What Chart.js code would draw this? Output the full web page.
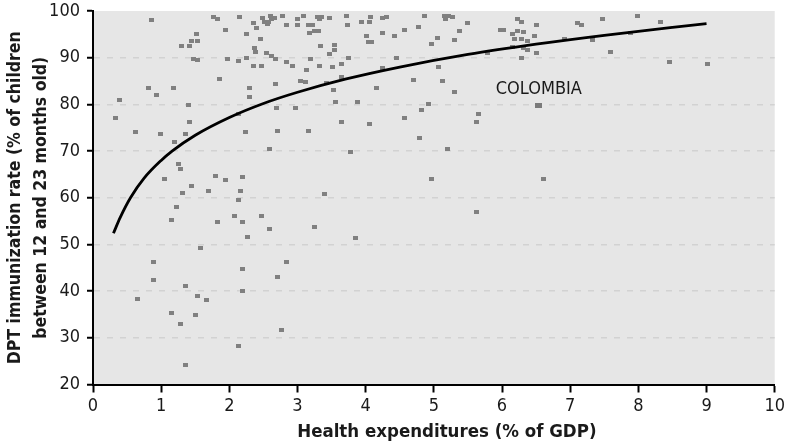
<!DOCTYPE html>
<html>
<head>
<meta charset="utf-8">
<script src="https://cdn.jsdelivr.net/npm/chart.js@4/dist/chart.umd.min.js"></script>
<style>
  html, body { margin: 0; padding: 0; background: #ffffff; }
  #wrap { width: 788px; height: 443px; }
</style>
</head>
<body>
<div id="wrap"><canvas id="c" width="788" height="443"></canvas></div>
<script>
// Health expenditure (% of GDP) and DPT immunization rate, one entry per country
const healthExp = [
  0.33, 0.39, 0.62, 0.81, 0.86, 0.93, 0.985, 1.05, 1.18, 1.20,
  1.25, 1.29, 1.22, 1.15, 1.31, 1.44, 1.30, 1.42, 1.45, 1.54,
  1.52, 1.47, 1.54, 1.40, 1.41, 1.35, 1.77, 1.83, 1.95, 1.86,
  1.97, 1.80, 1.94, 1.70, 2.13, 2.15, 2.25, 2.25, 2.35, 2.40,
  2.37, 2.39, 2.36, 2.47, 2.46, 2.49, 2.52, 2.56, 2.60, 2.58,
  2.66, 2.62, 2.78, 2.84, 3.00, 3.00, 3.09, 3.16, 3.22, 3.17,
  3.25, 3.31, 3.32, 3.35, 3.30, 3.47, 3.72, 3.74, 3.94, 4.05,
  4.07, 4.24, 4.31, 4.01, 4.04, 4.09, 4.24, 4.42, 4.45, 4.24,
  4.16, 3.88, 4.06, 3.78, 2.54, 2.62, 2.68, 2.84, 2.93, 3.13,
  3.19, 3.32, 3.34, 3.47, 3.54, 3.54, 3.51, 3.65, 3.75, 3.05,
  3.12, 3.43, 3.53, 3.56, 3.65, 3.65, 3.16, 2.97, 2.71, 2.69,
  2.59, 2.68, 2.30, 2.29, 2.24, 2.13, 3.40, 2.19, 2.16, 2.14,
  2.08, 2.47, 1.83, 2.20, 2.59, 2.27, 1.57, 4.57, 4.82, 4.79,
  5.20, 5.63, 5.65, 4.96, 5.63, 3.25, 3.85, 0.89, 0.89, 0.65,
  1.35, 1.54, 1.66, 1.15, 1.50, 1.28, 1.35, 2.20, 2.20, 2.14,
  2.70, 2.84, 2.77, 4.57, 4.77, 4.87, 5.15, 5.21, 5.27, 5.17,
  5.49, 5.37, 5.05, 4.96, 5.30, 5.07, 4.70, 5.12, 5.31, 4.92,
  6.61, 5.78, 5.98, 6.02, 6.23, 6.28, 6.50, 6.16, 6.22, 6.32,
  6.47, 6.19, 6.29, 6.37, 6.16, 6.32, 6.37, 6.51, 6.29, 7.11,
  7.17, 7.47, 7.99, 8.32, 6.91, 7.33, 7.88, 7.59, 8.46, 9.01
];
const dptRate = [
  77.0, 81.0, 74.0, 83.6, 98.1, 82.1, 73.7, 64.1, 83.6, 72.0,
  67.3, 66.2, 58.1, 55.2, 61.1, 62.6, 92.4, 92.4, 93.6, 93.6,
  95.0, 89.8, 89.4, 79.9, 76.3, 73.7, 98.8, 98.2, 96.0, 85.5,
  89.8, 64.7, 63.8, 61.5, 89.3, 98.8, 90.0, 95.1, 97.5, 96.4,
  92.1, 91.3, 88.3, 88.3, 94.0, 98.4, 97.7, 97.2, 99.0, 97.7,
  98.4, 98.2, 99.0, 97.1, 97.1, 98.2, 99.0, 97.1, 97.1, 95.3,
  95.8, 95.8, 98.2, 98.8, 98.8, 98.4, 99.0, 97.1, 97.7, 97.7,
  98.8, 98.5, 98.8, 94.7, 93.4, 93.4, 95.2, 94.7, 90.0, 87.8,
  83.6, 80.5, 75.7, 69.9, 91.0, 90.4, 89.8, 89.0, 88.3, 87.4,
  89.8, 88.3, 92.4, 90.7, 92.8, 91.7, 88.1, 88.7, 90.0, 85.0,
  84.7, 84.6, 83.0, 80.5, 85.9, 76.2, 74.4, 79.3, 74.4, 79.2,
  70.5, 84.4, 83.6, 81.5, 74.0, 78.0, 60.9, 64.5, 61.5, 59.5,
  56.1, 56.1, 54.9, 54.9, 53.2, 51.7, 49.3, 77.0, 78.7, 72.9,
  70.5, 76.3, 78.0, 64.1, 57.0, 53.8, 51.4, 46.3, 42.4, 38.4,
  41.0, 39.0, 38.0, 35.4, 34.9, 33.0, 24.2, 44.7, 40.0, 28.3,
  43.1, 46.3, 31.7, 96.0, 96.6, 99.0, 99.0, 99.0, 98.8, 98.2,
  97.5, 95.8, 94.3, 93.0, 93.7, 88.1, 85.3, 85.1, 82.7, 80.0,
  64.1, 91.1, 96.0, 96.0, 98.2, 97.7, 97.1, 95.1, 95.8, 95.4,
  94.7, 94.1, 93.9, 93.5, 92.2, 92.0, 91.7, 91.1, 90.0, 97.5,
  97.1, 98.2, 99.0, 97.7, 93.9, 93.7, 95.2, 91.3, 89.0, 88.7
];

// Highlighted country
const colombiaX = [6.54];
const colombiaY = [79.8];
const colombiaLabel = 'COLOMBIA';

// Fitted trend
const trendX = [0.3, 0.4, 0.55, 0.75, 1.0, 1.16, 1.5, 2.0, 2.5, 3.0, 3.7, 4.5, 5.5, 6.5, 7.5, 8.5, 9.0];
const trendY = [52.4, 55.8, 60.0, 64.2, 68.0, 70.0, 73.4, 77.2, 80.2, 82.6, 85.4, 88.0, 90.7, 92.9, 94.8, 96.5, 97.3];

// Axis ranges and titles
const xRange = [0, 10];
const yRange = [20, 100];
const xTitle = 'Health expenditures (% of GDP)';
const yTitle = ['DPT immunization rate (% of children', 'between 12 and 23 months old)'];

const NARROW = '"Liberation Sans Narrow", "Arial Narrow", "DejaVu Sans Condensed", sans-serif';
const INK = '#1a1a1a';

function rectMarker(w, h, color) {
  const c = document.createElement('canvas');
  c.width = w; c.height = h;
  const g = c.getContext('2d');
  g.fillStyle = color;
  g.fillRect(0, 0, w, h);
  return c;
}

const countryPoints = healthExp.map((x, i) => ({ x, y: dptRate[i] }));
const colombiaPoints = colombiaX.map((x, i) => ({ x, y: colombiaY[i] }));
const trendPoints = trendX.map((x, i) => ({ x, y: trendY[i] }));

// Grey panel behind the plotting area
const plotBg = {
  id: 'plotBg',
  beforeDraw(chart) {
    const { ctx, chartArea: a } = chart;
    ctx.save();
    ctx.fillStyle = '#e6e6e6';
    ctx.fillRect(a.left, a.top, a.right - a.left, a.bottom - a.top);
    ctx.restore();
  }
};

// Country label and horizontal axis title
const annotations = {
  id: 'annotations',
  afterDraw(chart) {
    const { ctx, chartArea: a } = chart;
    const xs = chart.scales.x, ys = chart.scales.y;
    ctx.save();
    ctx.fillStyle = INK;
    ctx.font = '18px ' + NARROW;
    ctx.textAlign = 'center';
    ctx.textBaseline = 'alphabetic';
    ctx.fillText(colombiaLabel, xs.getPixelForValue(colombiaX[0]), ys.getPixelForValue(colombiaY[0]) - 11);
    ctx.font = 'bold 18.5px ' + NARROW;
    ctx.fillText(xTitle, (a.left + a.right) / 2 + 13, 437);
    ctx.restore();
  }
};

new Chart(document.getElementById('c'), {
  type: 'scatter',
  data: {
    datasets: [
      {
        label: 'Trend',
        data: trendPoints,
        showLine: true,
        borderColor: '#000000',
        borderWidth: 2.8,
        pointRadius: 0,
        cubicInterpolationMode: 'monotone',
        fill: false,
        order: 0
      },
      {
        label: 'Colombia',
        data: colombiaPoints,
        pointStyle: rectMarker(7, 5, '#7a7a7a'),
        order: 1
      },
      {
        label: 'Countries',
        data: countryPoints,
        pointStyle: rectMarker(5, 4, '#808080'),
        order: 2
      }
    ]
  },
  options: {
    responsive: false,
    animation: false,
    devicePixelRatio: 1,
    layout: { padding: { top: 11, right: 11, left: 0, bottom: 0 } },
    plugins: {
      legend: { display: false },
      tooltip: { enabled: false }
    },
    scales: {
      x: {
        type: 'linear',
        min: xRange[0],
        max: xRange[1],
        afterFit(s) { s.height = 58.5; },
        ticks: { stepSize: 1, color: INK, padding: 3, font: { family: NARROW, size: 18 } },
        grid: { drawOnChartArea: false, drawTicks: true, tickLength: 8, tickColor: '#000', tickWidth: 2 },
        border: { display: true, color: '#000', width: 2 },
        title: { display: false }
      },
      y: {
        type: 'linear',
        min: yRange[0],
        max: yRange[1],
        afterFit(s) { s.width = 93; },
        ticks: { stepSize: 10, color: INK, padding: 7, font: { family: NARROW, size: 18, lineHeight: 0.4 } },
        grid: {
          drawOnChartArea: true,
          drawTicks: true,
          tickLength: 6,
          tickColor: '#000',
          tickWidth: 2,
          lineWidth: 1.5,
          color: (c) => (c.tick && (c.tick.value === yRange[0] || c.tick.value === yRange[1])) ? 'rgba(0,0,0,0)' : '#d2d2d2'
        },
        border: { display: true, color: '#000', width: 2, dash: [6, 7] },
        title: {
          display: true,
          text: yTitle,
          color: INK,
          padding: { top: 2, bottom: 0 },
          font: { family: NARROW, size: 17.5, weight: 'bold', lineHeight: 1.49 }
        }
      }
    }
  },
  plugins: [plotBg, annotations]
});
</script>
</body>
</html>
